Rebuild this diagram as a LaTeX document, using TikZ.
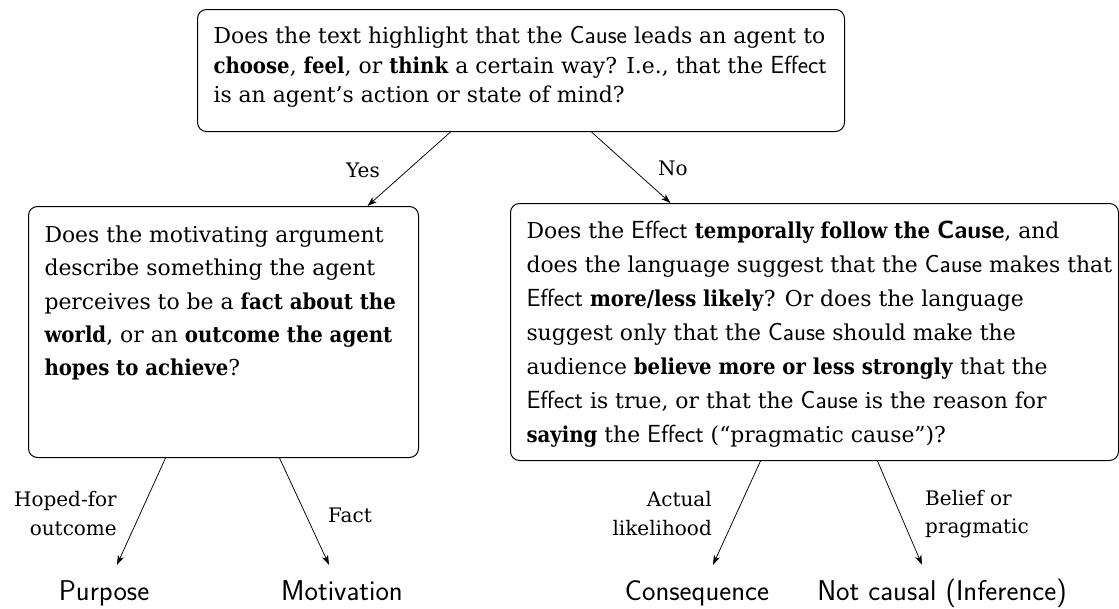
\documentclass[tikz,border=0pt]{standalone}
\usepackage{fontspec}
\setmainfont{DejaVu Serif}[BoldFeatures={FakeStretch=0.9}]
\newfontfamily\argsf{Latin Modern Sans}[Scale=1.13]
\usetikzlibrary{arrows.meta}

% argument names are set in sans
\newcommand{\argcause}{{\argsf Cause}}
\newcommand{\argeffect}{{\argsf Effect}}
% one unbreakable line of a question
\newcommand{\qline}[1]{\mbox{#1}\\}

\tikzset{
  qbox/.style={draw, line width=1pt, rounded corners=9pt, anchor=north west, inner xsep=16pt, inner ysep=0pt},
  arr/.style={line width=0.75pt, -{Stealth[length=9.5pt,width=6.5pt,inset=2.5pt]}},
  elabel/.style={inner sep=0pt, font=\fontsize{20}{28.5}\selectfont},
  leaf/.style={inner xsep=0pt, inner ysep=15pt, text height=20pt, text depth=6pt, anchor=base,
               font=\fontsize{28.6}{32}\selectfont\sffamily}
}

\begin{document}
\begin{tikzpicture}[x=1pt, y=-1pt]
\useasboundingbox (0,0) rectangle (1119,608);

% question boxes
\node[qbox] (top) at (197,9) {%
  \begin{minipage}[c][122pt][t]{615pt}\fontsize{21.9}{29.5}\selectfont\raggedright
  \vspace*{17pt}\rule{0pt}{17pt}%
  \qline{Does the text highlight that the \argcause{} leads an agent to}
  \qline{\textbf{choose}, \textbf{feel}, or \textbf{think} a certain way? I.e., that the \argeffect}
  \mbox{is an agent's action or state of mind?}
  \end{minipage}};

\node[qbox] (lbox) at (28,206) {%
  \begin{minipage}[c][251pt][t]{358pt}\fontsize{21.9}{33.3}\selectfont\raggedright
  \vspace*{19pt}\rule{0pt}{17pt}%
  \qline{Does the motivating argument}
  \qline{describe something the agent}
  \qline{perceives to be a \textbf{fact about the}}
  \qline{\textbf{world}, or an \textbf{outcome the agent}}
  \mbox{\textbf{hopes to achieve}?}
  \end{minipage}};

\node[qbox] (rbox) at (510,203) {%
  \begin{minipage}[c][257pt][t]{576pt}\fontsize{21.9}{34}\selectfont\raggedright
  \vspace*{18pt}\rule{0pt}{17pt}%
  \qline{Does the \argeffect{} \textbf{temporally follow the \argcause}, and}
  \qline{does the language suggest that the \argcause{} makes that}
  \qline{\argeffect{} \textbf{more/less likely}? Or does the language}
  \qline{suggest only that the \argcause{} should make the}
  \qline{audience \textbf{believe more or less strongly} that the}
  \qline{\argeffect{} is true, or that the \argcause{} is the reason for}
  \mbox{\textbf{saying} the \argeffect{} (``pragmatic cause'')?}
  \end{minipage}};

% outcomes
\node[leaf] (purpose) at (104,600) {Purpose};
\node[leaf] (motiv)   at (342,600) {Motivation};
\node[leaf] (conseq)  at (697,600) {Consequence};
\node[leaf] (notc)    at (942,600) {Not causal (Inference)};

% connectors
\draw[arr] ([xshift=-70.5pt]top.south) -- ([xshift=144pt]lbox.north);
\draw[arr] ([xshift=70.5pt]top.south) -- ([xshift=-144pt]rbox.north);
\draw[arr] ([xshift=-58pt]lbox.south) -- ([xshift=13pt]purpose.north);
\draw[arr] ([xshift=56pt]lbox.south) -- ([xshift=-13pt]motiv.north);
\draw[arr] ([xshift=-54pt]rbox.south) -- ([xshift=16pt]conseq.north);
\draw[arr] ([xshift=63pt]rbox.south) -- ([xshift=-20pt]notc.north);

% connector labels
\node[elabel, anchor=base] (yes) at (363,177) {Yes};
\node[elabel, anchor=base] (no)  at (673,175) {No};
\node[elabel, anchor=north east, align=right] (hoped) at (117,491.5) {Hoped-for\\outcome};
\node[elabel, anchor=base] (fact) at (350,522) {Fact};
\node[elabel, anchor=north east, align=right] (actual) at (712,491.5) {Actual\\likelihood};
\node[elabel, anchor=north west, align=left] (belief) at (925,490) {Belief or\\pragmatic};
\end{tikzpicture}
\end{document}
